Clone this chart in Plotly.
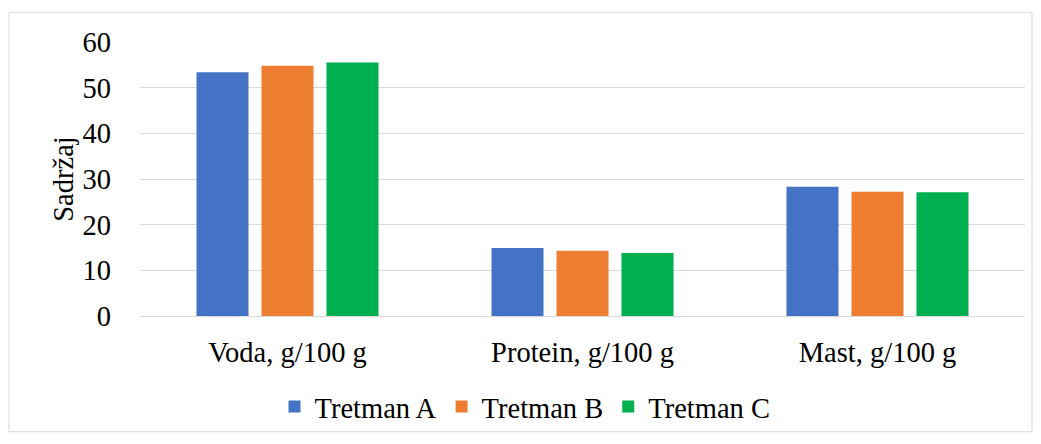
import plotly.graph_objects as go

categories = ["Voda, g/100 g", "Protein, g/100 g", "Mast, g/100 g"]
series_names = ["Tretman A", "Tretman B", "Tretman C"]
tretman_a = [53.4, 14.9, 28.3]
tretman_b = [54.8, 14.3, 27.2]
tretman_c = [55.5, 13.8, 27.1]
colors = ["#4472C4", "#ED7D31", "#00B050"]
y_ticks = [0, 10, 20, 30, 40, 50, 60]

W, H = 1041, 444
L, R, T, B = 140, 16, 42, 125
pw, ph = W - L - R, H - T - B

font = dict(family="Liberation Serif, Times New Roman, serif", size=28.5, color="#000000")

fig = go.Figure()
for name, vals, c in zip(series_names, [tretman_a, tretman_b, tretman_c], colors):
    fig.add_trace(go.Bar(x=categories, y=vals, name=name, marker=dict(color=c, line=dict(width=0))))

def px_x(px):
    return (px - L) / pw

def px_y(py):
    return (H - B - py) / ph

fig.add_shape(type="rect", xref="paper", yref="paper",
              x0=px_x(9), x1=px_x(1032), y0=px_y(436), y1=px_y(12),
              line=dict(color="#D9D9D9", width=1), fillcolor="rgba(0,0,0,0)", layer="below")

fig.update_layout(
    width=W, height=H,
    margin=dict(l=L, r=R, t=T, b=B),
    paper_bgcolor="white", plot_bgcolor="white",
    font=font,
    barmode="group", bargap=0.339, bargroupgap=0.2,
    showlegend=True,
    legend=dict(orientation="h", x=px_x(525), xanchor="center", y=px_y(411), yanchor="middle",
                bgcolor="rgba(0,0,0,0)", font=font, itemsizing="constant",
                traceorder="normal", itemwidth=30),
    xaxis=dict(showgrid=False, showline=False, ticks="", tickfont=font, ticklabelstandoff=16),
    yaxis=dict(range=[0, 60], tickvals=y_ticks, showgrid=True, gridcolor="#D9D9D9", gridwidth=1.3,
               zeroline=True, zerolinecolor="#D9D9D9", zerolinewidth=1.3, showline=False,
               ticks="", tickfont=font, ticklabelstandoff=28,
               title=dict(text="Sadržaj", font=font, standoff=0)),
)

fig.write_html("out.html", config={"displayModeBar": False},
               post_script="document.body.style.margin='0';document.body.style.overflow='hidden';")
